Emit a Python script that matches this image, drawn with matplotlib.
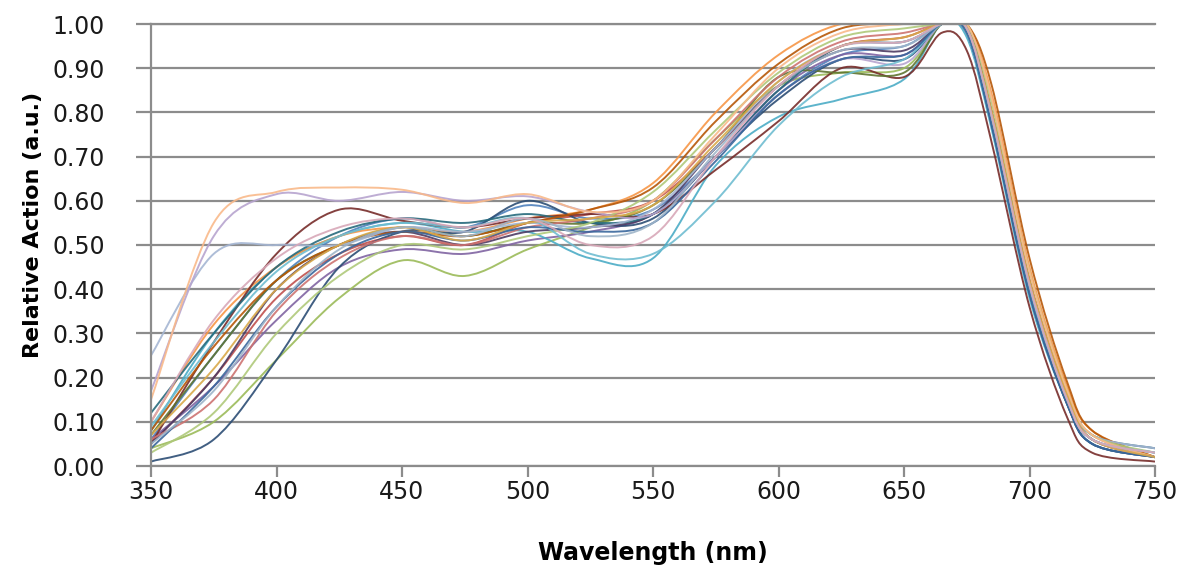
import numpy as np
import matplotlib
matplotlib.use('Agg')
import matplotlib.pyplot as plt
from matplotlib.path import Path
from matplotlib.patches import PathPatch

# wavelength grid (nm)
wl = [350, 375, 400, 425, 450, 475, 500, 525, 550, 575, 600, 625, 650, 665, 675, 685, 700, 715, 725, 750]

# relative action curves, one list per species
s01 = [0.06, 0.25, 0.42, 0.52, 0.56, 0.54, 0.59, 0.56, 0.58, 0.70, 0.84, 0.93, 0.95, 1.00, 0.99, 0.78, 0.40, 0.15, 0.06, 0.03]
s02 = [0.05, 0.20, 0.38, 0.48, 0.52, 0.50, 0.55, 0.57, 0.60, 0.72, 0.86, 0.95, 0.97, 1.00, 0.98, 0.80, 0.42, 0.16, 0.07, 0.02]
s03 = [0.04, 0.10, 0.24, 0.38, 0.465, 0.43, 0.49, 0.54, 0.60, 0.74, 0.86, 0.89, 0.90, 1.00, 0.99, 0.79, 0.41, 0.15, 0.06, 0.02]
s04 = [0.06, 0.18, 0.33, 0.45, 0.49, 0.48, 0.51, 0.53, 0.57, 0.70, 0.85, 0.93, 0.93, 1.00, 0.98, 0.77, 0.39, 0.14, 0.05, 0.02]
s05 = [0.08, 0.30, 0.45, 0.52, 0.55, 0.53, 0.53, 0.47, 0.47, 0.68, 0.79, 0.83, 0.875, 1.00, 0.97, 0.76, 0.38, 0.14, 0.05, 0.02]
s06 = [0.10, 0.32, 0.45, 0.52, 0.54, 0.53, 0.56, 0.58, 0.64, 0.80, 0.93, 1.00, 1.00, 1.00, 1.00, 0.84, 0.45, 0.18, 0.08, 0.02]
s07 = [0.01, 0.06, 0.24, 0.45, 0.53, 0.53, 0.60, 0.55, 0.56, 0.70, 0.83, 0.92, 0.92, 1.00, 0.98, 0.77, 0.39, 0.14, 0.05, 0.02]
s08 = [0.05, 0.28, 0.48, 0.58, 0.555, 0.54, 0.56, 0.57, 0.57, 0.67, 0.78, 0.90, 0.88, 0.98, 0.94, 0.73, 0.36, 0.11, 0.03, 0.01]
s09 = [0.07, 0.25, 0.42, 0.50, 0.54, 0.52, 0.55, 0.55, 0.59, 0.72, 0.88, 0.89, 0.89, 1.00, 0.99, 0.79, 0.41, 0.15, 0.06, 0.02]
s10 = [0.05, 0.20, 0.40, 0.50, 0.53, 0.50, 0.53, 0.54, 0.57, 0.72, 0.86, 0.94, 0.94, 1.00, 0.99, 0.78, 0.40, 0.15, 0.06, 0.02]
s11 = [0.12, 0.30, 0.45, 0.53, 0.56, 0.55, 0.57, 0.55, 0.57, 0.70, 0.85, 0.95, 0.96, 1.00, 1.00, 0.80, 0.42, 0.16, 0.07, 0.04]
s12 = [0.08, 0.27, 0.42, 0.50, 0.53, 0.52, 0.55, 0.58, 0.63, 0.78, 0.91, 0.99, 1.00, 1.00, 1.00, 0.86, 0.47, 0.19, 0.08, 0.02]
s13 = [0.25, 0.48, 0.50, 0.50, 0.54, 0.53, 0.55, 0.54, 0.58, 0.72, 0.87, 0.95, 0.96, 1.00, 0.99, 0.79, 0.41, 0.16, 0.07, 0.04]
s14 = [0.06, 0.15, 0.35, 0.47, 0.52, 0.50, 0.54, 0.56, 0.60, 0.74, 0.88, 0.96, 0.98, 1.00, 0.99, 0.80, 0.42, 0.16, 0.06, 0.02]
s15 = [0.03, 0.12, 0.30, 0.43, 0.50, 0.49, 0.52, 0.55, 0.62, 0.76, 0.89, 0.97, 0.99, 1.00, 1.00, 0.82, 0.44, 0.17, 0.07, 0.03]
s16 = [0.17, 0.52, 0.615, 0.60, 0.62, 0.60, 0.61, 0.575, 0.57, 0.70, 0.84, 0.92, 0.91, 1.00, 0.98, 0.78, 0.40, 0.15, 0.06, 0.02]
s17 = [0.09, 0.28, 0.44, 0.52, 0.55, 0.54, 0.56, 0.48, 0.48, 0.60, 0.77, 0.88, 0.92, 1.00, 0.98, 0.78, 0.40, 0.15, 0.06, 0.03]
s18 = [0.15, 0.55, 0.62, 0.63, 0.625, 0.595, 0.615, 0.575, 0.60, 0.75, 0.90, 0.98, 1.00, 1.00, 1.00, 0.83, 0.44, 0.17, 0.07, 0.02]
s19 = [0.04, 0.18, 0.36, 0.48, 0.53, 0.51, 0.54, 0.53, 0.55, 0.69, 0.84, 0.92, 0.93, 1.00, 0.98, 0.77, 0.39, 0.14, 0.05, 0.02]
s20 = [0.07, 0.22, 0.40, 0.50, 0.54, 0.51, 0.55, 0.56, 0.59, 0.73, 0.87, 0.95, 0.97, 1.00, 0.99, 0.80, 0.42, 0.16, 0.06, 0.02]
s21 = [0.05, 0.17, 0.36, 0.49, 0.54, 0.52, 0.56, 0.52, 0.55, 0.71, 0.86, 0.94, 0.95, 1.00, 0.99, 0.79, 0.41, 0.15, 0.06, 0.03]
s22 = [0.10, 0.33, 0.47, 0.54, 0.56, 0.54, 0.56, 0.50, 0.52, 0.70, 0.86, 0.95, 0.96, 1.00, 0.99, 0.79, 0.41, 0.15, 0.06, 0.03]

series = [s01, s02, s03, s04, s05, s06, s07, s08, s09, s10, s11,
          s12, s13, s14, s15, s16, s17, s18, s19, s20, s21, s22]
colors = ['#4F81BD', '#C0504D', '#9BBB59', '#8064A2', '#4BACC6', '#F79646',
          '#2C4D75', '#772C2A', '#5F7530', '#4D3B62', '#276A7C', '#B65708',
          '#A5B6D3', '#CD7371', '#AFC97A', '#B7A4CF', '#6FBDD1', '#F9B98A',
          '#3A679C', '#D9A94A', '#9FB5C9', '#D8A8B8']


def smooth_path(x, y):
    # Excel-style smoothed line: Catmull-Rom segments drawn as cubic Beziers
    p = np.column_stack([x, y]).astype(float)
    n = len(p)
    verts = [p[0]]
    codes = [Path.MOVETO]
    for i in range(n - 1):
        p0 = p[i - 1] if i > 0 else p[i]
        p3 = p[i + 2] if i + 2 < n else p[i + 1]
        c1 = p[i] + (p[i + 1] - p0) / 6.0
        c2 = p[i + 1] - (p3 - p[i]) / 6.0
        verts += [c1, c2, p[i + 1]]
        codes += [Path.CURVE4] * 3
    return Path(verts, codes)


fig = plt.figure(figsize=(11.85, 5.67), dpi=100)
ax = fig.add_axes([151 / 1185, 101 / 567, 1004 / 1185, 442 / 567])

grey = '#8c8c8c'
ax.set_xlim(350, 750)
ax.set_ylim(0, 1.0)
ax.set_xticks(range(350, 751, 50))
ax.set_yticks(np.arange(0, 1.01, 0.1))
ax.yaxis.set_major_formatter(matplotlib.ticker.FormatStrFormatter('%.2f'))
ax.yaxis.grid(True, color=grey, lw=1.6)
ax.set_axisbelow(True)
for side in ['left', 'bottom', 'top']:
    ax.spines[side].set_color(grey)
    ax.spines[side].set_linewidth(1.6)
ax.spines['right'].set_visible(False)
ax.tick_params(axis='both', direction='out', width=1.6, color=grey,
               labelsize=17, labelcolor='#1a1a1a')
ax.tick_params(axis='x', length=8, pad=2)
ax.tick_params(axis='y', length=11, pad=22)

for s, c in zip(series, colors):
    ax.add_patch(PathPatch(smooth_path(wl, s), fill=False, edgecolor=c, lw=1.4, alpha=0.9))

ax.set_xlabel('Wavelength (nm)', fontsize=17, fontweight='bold', va='center')
ax.xaxis.set_label_coords(0.5, (466 - 553) / 442)
ax.set_ylabel('Relative Action (a.u.)', fontsize=16, fontweight='bold', va='center')
ax.yaxis.set_label_coords(-(151 - 33) / 1004, (466 - 225) / 442)

fig.savefig('out.png', dpi=100)
